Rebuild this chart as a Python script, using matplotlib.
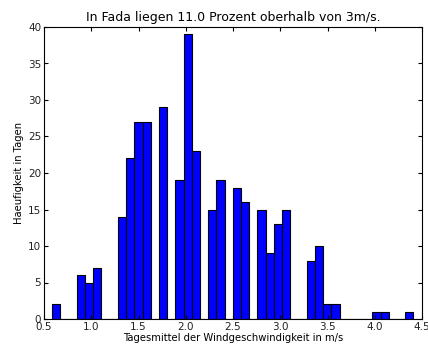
import numpy as np
import matplotlib
matplotlib.use("Agg")
import matplotlib.pyplot as plt

title = "In Fada liegen 11.0 Prozent oberhalb von 3m/s."
xlabel = "Tagesmittel der Windgeschwindigkeit in m/s"
ylabel = "Haeufigkeit in Tagen"

range_min = 0.587
range_max = 4.41
counts = [2, 0, 0, 6, 5, 7, 0, 0, 14, 22, 27, 27, 0, 29, 0, 19, 39, 23, 0, 15,
          19, 0, 18, 16, 0, 15, 9, 13, 15, 0, 0, 8, 10, 2, 2, 0, 0, 0, 0, 1,
          1, 0, 0, 1]

xticks = [0.5, 1.0, 1.5, 2.0, 2.5, 3.0, 3.5, 4.0, 4.5]
yticks = [0, 5, 10, 15, 20, 25, 30, 35, 40]

edges = np.linspace(range_min, range_max, len(counts) + 1)

fig = plt.figure(figsize=(4.28, 3.47), dpi=100)
ax = fig.add_axes([44/428, 1 - 319/347, (422 - 44)/428, (319 - 27)/347])
ax.bar(edges[:-1], counts, width=np.diff(edges), align='edge',
       color='#0000ff', edgecolor='black', linewidth=0.8)

ax.set_xlim(0.5, 4.5)
ax.set_ylim(0, 40)
ax.set_xticks(xticks)
ax.set_xticklabels([f"{t:.1f}" for t in xticks])
ax.set_yticks(yticks)
ax.tick_params(direction='in', top=True, right=True, labelsize=7.5, length=3,
               pad=2, labelcolor='#222222')
for s in ax.spines.values():
    s.set_linewidth(0.8)

ax.set_title(title, fontsize=9, pad=4)
ax.set_xlabel(xlabel, fontsize=7.2, labelpad=1)
ax.set_ylabel(ylabel, fontsize=7.2, labelpad=3)

fig.savefig("out.png", dpi=100)
